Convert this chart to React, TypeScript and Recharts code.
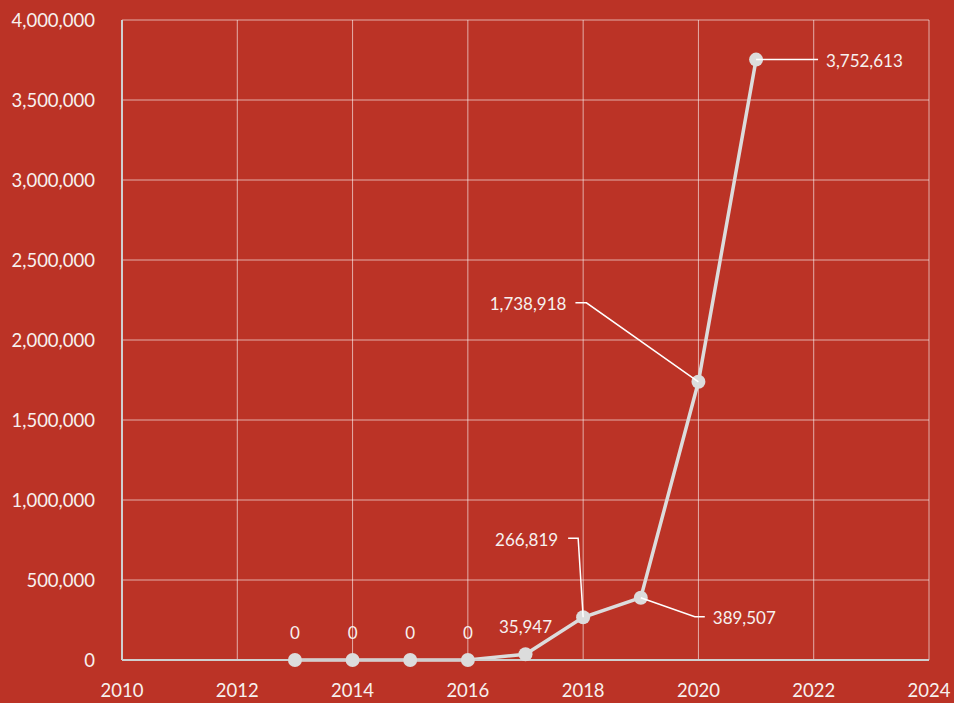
import { LineChart, Line, XAxis, YAxis, CartesianGrid, LabelList } from "recharts";

const years = [2013, 2014, 2015, 2016, 2017, 2018, 2019, 2020, 2021];
const values = [0, 0, 0, 0, 35947, 266819, 389507, 1738918, 3752613];
const xTicks = [2010, 2012, 2014, 2016, 2018, 2020, 2022, 2024];
const yTicks = [0, 500000, 1000000, 1500000, 2000000, 2500000, 3000000, 3500000, 4000000];

const data = years.map((year, i) => ({ year, value: values[i] }));

const BG = "#bb3326";
const FONT = "Lato, 'Noto Sans', sans-serif";
const TEXT = "#f7f1ef";

// where each value label sits relative to its point, plus optional leader line
type Placement = {
	dx: number;
	dy: number;
	anchor: "start" | "middle" | "end";
	leader?: [number, number][];
};

const defaultPlacement: Placement = { dx: 0, dy: -28, anchor: "middle" };
const placements: Record<number, Placement> = {
	5: { dx: -25, dy: -78, anchor: "end", leader: [[-15, -79], [-5, -79], [0, 0]] },
	6: { dx: 72, dy: 20, anchor: "start", leader: [[0, 0], [54, 19], [64, 19]] },
	7: { dx: -132, dy: -78, anchor: "end", leader: [[-123, -79], [-112, -79], [0, 0]] },
	8: { dx: 70, dy: 1, anchor: "start", leader: [[0, 0], [62, 0]] },
};

const fmt = (v: number | string) => Number(v).toLocaleString("en-US");

function ValueLabel(props: any) {
	const { x, y, value, index } = props;
	const p = placements[index] ?? defaultPlacement;
	return (
		<g>
			{p.leader && (
				<polyline
					points={p.leader.map(([lx, ly]) => `${x + lx},${y + ly}`).join(" ")}
					fill="none"
					stroke="#ffffff"
					strokeWidth={1.5}
				/>
			)}
			<text
				x={x + p.dx}
				y={y + p.dy}
				textAnchor={p.anchor}
				dominantBaseline="central"
				fill={TEXT}
				fontSize={17}
				fontFamily={FONT}
			>
				{fmt(value)}
			</text>
		</g>
	);
}

export default function App() {
	return (
		<div style={{ position: "absolute", left: 0, top: 0, width: 954, height: 703, background: BG }}>
			<LineChart
				width={954}
				height={703}
				data={data}
				margin={{ top: 20, right: 25, bottom: 0, left: 0 }}
			>
				<CartesianGrid stroke="rgba(255,255,255,0.6)" strokeWidth={1} ticks={xTicks as any} />
				<XAxis
					dataKey="year"
					type="number"
					domain={[2010, 2024]}
					ticks={xTicks}
					height={43}
					axisLine={{ stroke: "#cfcfcf", strokeWidth: 2 }}
					tickLine={false}
					tickMargin={18}
					tick={{ fill: TEXT, fontSize: 18.5, fontFamily: FONT }}
				/>
				<YAxis
					type="number"
					domain={[0, 4000000]}
					ticks={yTicks}
					width={122}
					axisLine={{ stroke: "#cfcfcf", strokeWidth: 2 }}
					tickLine={false}
					tickMargin={21}
					tickFormatter={fmt}
					tick={{ fill: TEXT, fontSize: 18.5, fontFamily: FONT }}
				/>
				<Line
					dataKey="value"
					stroke="#dcdcdc"
					strokeWidth={3.5}
					dot={{ r: 7, fill: "#dcdcdc", stroke: "none" }}
					activeDot={false}
					isAnimationActive={false}
				>
					<LabelList dataKey="value" content={ValueLabel} />
				</Line>
			</LineChart>
		</div>
	);
}
